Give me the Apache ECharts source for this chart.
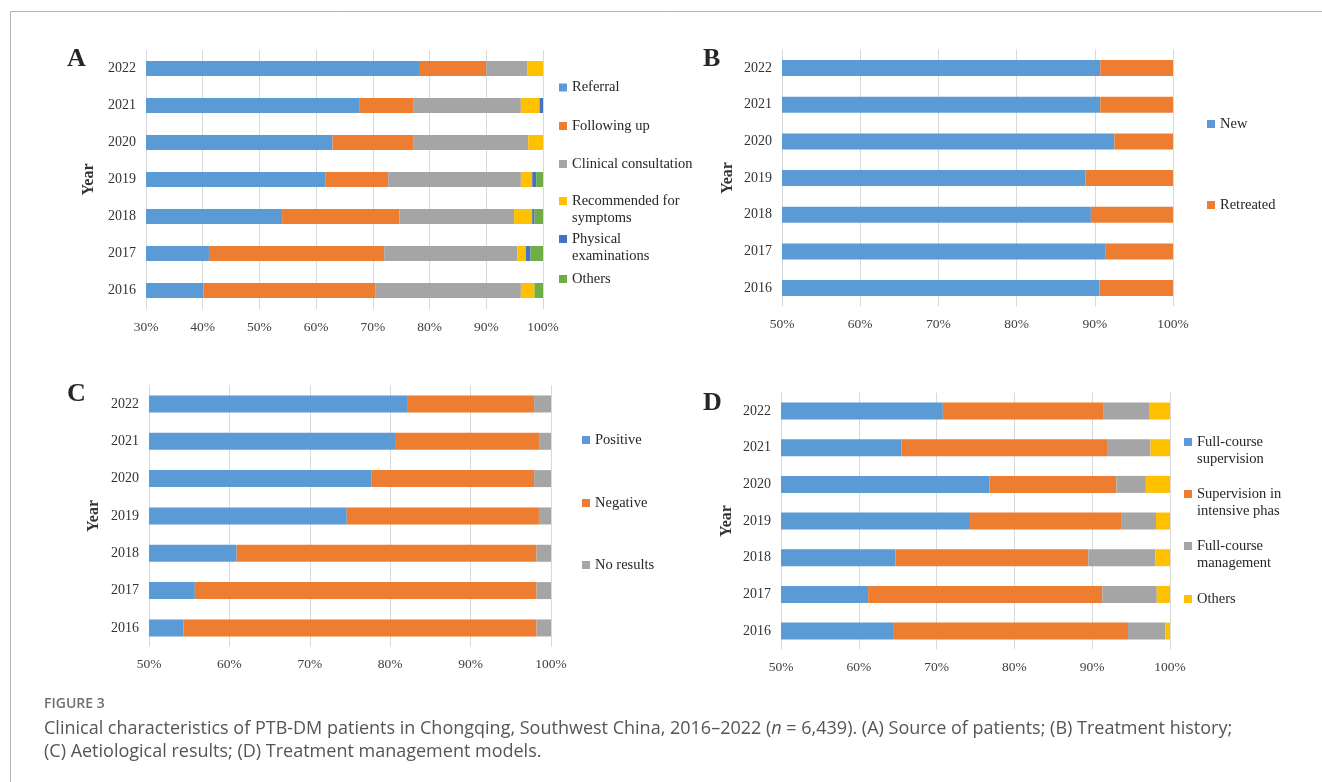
<!DOCTYPE html>
<html>
<head>
<meta charset="utf-8">
<script src="https://cdn.jsdelivr.net/npm/echarts@6/dist/echarts.min.js"></script>
<style>
html,body{margin:0;padding:0;background:#fff;}
#chart{width:1322px;height:782px;}
</style>
</head>
<body>
<div id="chart"></div>
<script>
// ---------- data ----------
const years = ['2016', '2017', '2018', '2019', '2020', '2021', '2022'];
const tickFormat = '{value}%';

// Panel A: source of patients (%)
const sourceNames = ['Referral', 'Following up', 'Clinical consultation', 'Recommended for\nsymptoms', 'Physical\nexaminations', 'Others'];
const referral    = [40.1, 41.1, 54.0, 61.6, 62.9, 67.7, 78.3];
const followingUp = [30.4, 30.9, 20.7, 11.1, 14.2, 9.4, 11.7];
const clinical    = [25.6, 23.5, 20.2, 23.4, 20.3, 19.0, 7.2];
const recommended = [2.4, 1.5, 3.2, 2.0, 2.6, 3.3, 2.8];
const physical    = [0, 0.8, 0.4, 0.7, 0, 0.6, 0];
const othersA     = [1.5, 2.2, 1.5, 1.2, 0, 0, 0];

// Panel B: treatment history (%)
const historyNames = ['New', 'Retreated'];
const newCases  = [90.6, 91.4, 89.5, 88.8, 92.5, 90.7, 90.7];
const retreated = [9.4, 8.6, 10.5, 11.2, 7.5, 9.3, 9.3];

// Panel C: aetiological results (%)
const resultNames = ['Positive', 'Negative', 'No results'];
const positive  = [54.3, 55.7, 60.9, 74.6, 77.7, 80.6, 82.2];
const negative  = [43.9, 42.5, 37.3, 23.9, 20.2, 18.0, 15.7];
const noResults = [1.8, 1.8, 1.8, 1.5, 2.1, 1.4, 2.1];

// Panel D: treatment management models (%)
const modelNames = ['Full-course\nsupervision', 'Supervision in\nintensive phase', 'Full-course\nmanagement', 'Others'];
const fullSupervision = [64.4, 61.2, 64.7, 74.3, 76.8, 65.5, 70.8];
const intensiveSup    = [30.2, 30.1, 24.8, 19.5, 16.3, 26.4, 20.6];
const fullManagement  = [4.8, 7.0, 8.6, 4.4, 3.8, 5.6, 5.9];
const othersD         = [0.6, 1.7, 1.9, 1.8, 3.1, 2.5, 2.7];

const panelLetters = ['A', 'B', 'C', 'D'];
const figureLabel = 'FIGURE 3';
const captionText = 'Clinical characteristics of PTB-DM patients in Chongqing, Southwest China, 2016\u20132022 ({i|n} = 6,439). (A) Source of patients; (B) Treatment history;\n(C) Aetiological results; (D) Treatment management models.';

// ---------- styling ----------
const C_BLUE = '#5B9BD5', C_ORANGE = '#ED7D31', C_GRAY = '#A5A5A5', C_YELLOW = '#FFC000', C_DBLUE = '#4472C4', C_GREEN = '#70AD47';
const SERIF = '"Liberation Serif", "Times New Roman", serif';
const SANS = '"Open Sans", sans-serif';

const grids = [
  {left: 146, top: 50,    width: 397, height: 259},
  {left: 782, top: 49.7,  width: 391, height: 256.7},
  {left: 149, top: 385.3, width: 402, height: 261.3},
  {left: 781, top: 392.7, width: 389, height: 256.7}
];
const mins = [30, 50, 50, 50];
const nameGaps = [49, 46, 47, 46];

const xAxes = grids.map((g, i) => ({
  type: 'value', gridIndex: i, min: mins[i], max: 100, interval: 10,
  axisLine: {show: false}, axisTick: {show: false},
  splitLine: {show: true, lineStyle: {color: '#d9d9d9', width: 1}},
  axisLabel: {formatter: tickFormat, fontFamily: SERIF, fontSize: 13.5, color: '#404040', margin: 11}
}));
const yAxes = grids.map((g, i) => ({
  type: 'category', gridIndex: i, data: years,
  axisLine: {show: false}, axisTick: {show: false},
  axisLabel: {fontFamily: SERIF, fontSize: 14, color: '#333', margin: 10},
  name: 'Year', nameLocation: 'middle', nameRotate: 90, nameGap: nameGaps[i],
  nameTextStyle: {fontFamily: SERIF, fontSize: 16, fontWeight: 'bold', color: '#333'}
}));

function key(idx, name) { return panelLetters[idx] + ':' + name; }

function bars(idx, names, arrays, colors, width) {
  return arrays.map((arr, k) => ({
    type: 'bar', name: key(idx, names[k]), xAxisIndex: idx, yAxisIndex: idx, stack: 'p' + idx,
    data: arr, barWidth: width, itemStyle: {color: colors[k]}, clip: true, silent: true
  }));
}

const series = [].concat(
  bars(0, sourceNames, [referral, followingUp, clinical, recommended, physical, othersA],
       [C_BLUE, C_ORANGE, C_GRAY, C_YELLOW, C_DBLUE, C_GREEN], 15),
  bars(1, historyNames, [newCases, retreated], [C_BLUE, C_ORANGE], 16),
  bars(2, resultNames, [positive, negative, noResults], [C_BLUE, C_ORANGE, C_GRAY], 17),
  bars(3, modelNames, [fullSupervision, intensiveSup, fullManagement, othersD],
       [C_BLUE, C_ORANGE, C_GRAY, C_YELLOW], 17)
);

// one legend component per entry, so entries sit at fixed rows
const LH = 17;
function legendItem(idx, name, left, center, truncW) {
  const twoLine = name.indexOf('\n') >= 0;
  const ts = {fontFamily: SERIF, fontSize: 14.5, color: '#262626', lineHeight: LH};
  if (truncW) { ts.width = truncW; ts.overflow = 'truncate'; ts.ellipsis = ''; }
  return {
    data: [key(idx, name)], left: left, top: center - (twoLine ? 1.5 * LH : LH / 2), padding: 0,
    orient: 'vertical', icon: 'rect', itemWidth: 8, itemHeight: 8,
    selectedMode: false, textStyle: ts,
    formatter: () => (twoLine ? '\n' + name : name)
  };
}
const legendRows = [
  [sourceNames, 559, [87.5, 126, 164, 201, 239, 279], 0],
  [historyNames, 1207, [124, 205], 0],
  [resultNames, 582, [440, 503, 565], 0],
  [modelNames, 1184, [442, 494, 546, 599], 86]
];
const legends = [];
legendRows.forEach(([names, left, centers, tw], idx) => {
  names.forEach((n, k) => legends.push(legendItem(idx, n, left, centers[k], tw)));
});

const letterPos = [[67, 46], [703, 46], [67, 381], [703, 390]];

const option = {
  backgroundColor: '#fff',
  animation: false,
  grid: grids,
  xAxis: xAxes,
  yAxis: yAxes,
  legend: legends,
  series: series,
  graphic: [
    {type: 'line', shape: {x1: 10.5, y1: 11.5, x2: 1322, y2: 11.5}, style: {stroke: '#b4b4b4', lineWidth: 1}},
    {type: 'line', shape: {x1: 10.5, y1: 11.5, x2: 10.5, y2: 782}, style: {stroke: '#b4b4b4', lineWidth: 1}}
  ].concat(panelLetters.map((t, i) => ({
    type: 'text', left: letterPos[i][0], top: letterPos[i][1],
    style: {text: t, fontFamily: SERIF, fontSize: 26, fontWeight: 'bold', fill: '#262626'}
  }))).concat([
    {type: 'text', left: 44, top: 697,
     style: {text: figureLabel, fontFamily: SANS, fontSize: 14, fontWeight: 600, fill: '#707070'}},
    {type: 'text', left: 44, top: 717,
     style: {
       text: captionText,
       fontFamily: SANS, fontSize: 18, fill: '#555', lineHeight: 23,
       rich: {i: {fontFamily: SANS, fontSize: 18, fontStyle: 'italic', fill: '#555', lineHeight: 23}}
     }}
  ])
};

const chart = echarts.init(document.getElementById('chart'), null, {renderer: 'canvas'});
chart.setOption(option);
</script>
</body>
</html>
